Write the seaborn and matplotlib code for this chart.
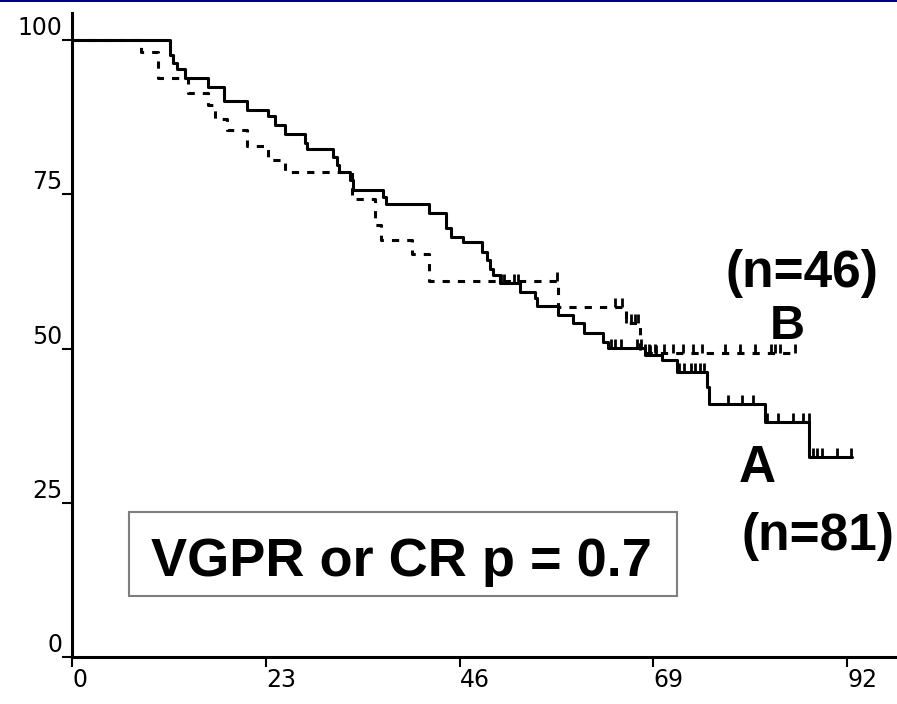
import numpy as np
import pandas as pd
import matplotlib
matplotlib.use("Agg")
import matplotlib.pyplot as plt
from matplotlib.patches import Rectangle
import seaborn as sns

# ---------------- data ----------------
A_t = [0, 11.6, 12.0, 12.5, 13.4, 16.1, 18.0, 20.8, 23.2, 24.1, 25.3, 27.7, 27.9,
       31.0, 31.5, 31.7, 33.0, 33.4, 36.9, 37.3, 42.4, 44.4, 45.0, 46.4, 48.7,
       49.2, 49.6, 50.0, 50.8, 53.2, 55.0, 55.2, 57.7, 59.5, 60.7, 63.0, 63.6,
       68.0, 70.0, 71.8, 75.3, 75.6, 82.2, 87.5, 92.6]
A_s = [100, 97.6, 96.3, 95.3, 93.8, 92.4, 90.1, 88.7, 87.7, 86.2, 84.8, 83.3, 82.3,
       81.0, 79.7, 78.6, 77.3, 75.7, 74.6, 73.4, 72.0, 69.5, 68.1, 67.3, 65.6,
       64.3, 62.9, 61.9, 60.6, 59.2, 58.2, 56.9, 55.4, 54.1, 52.5, 51.1, 50.1,
       49.0, 48.1, 46.2, 43.8, 41.0, 38.1, 32.4, 32.4]
A_cens = [50.9, 51.3, 52.5, 52.9, 64.0, 64.4, 65.1, 67.0, 67.5, 68.6, 69.3,
          72.0, 72.6, 73.4, 73.9, 74.5, 75.0, 77.9, 79.5, 80.8,
          82.5, 83.8, 85.5, 86.8, 87.4, 87.9, 88.4, 89.0, 90.8, 92.4]

B_t = [0, 8.2, 10.2, 13.8, 16.1, 17.0, 18.4, 20.8, 23.3, 25.3, 33.2, 36.0, 36.7,
       40.4, 42.4, 57.7, 65.7, 67.4, 85.8]
B_s = [100, 98.1, 93.8, 91.4, 89.5, 87.2, 85.4, 82.8, 80.6, 78.6, 74.2, 70.0, 67.6,
       65.3, 60.9, 56.7, 54.1, 49.3, 49.3]
B_cens = [57.5, 64.4, 65.3, 65.8, 66.3, 66.8, 67.2, 68.0, 68.5, 69.2, 70.3, 71.3,
          72.5, 73.7, 74.8, 77.5, 79.3, 81.1, 82.9, 83.4, 84.0, 85.8]

x_ticks = [0, 23, 46, 69, 92]
y_ticks = [0, 25, 50, 75, 100]

# ---------------- style ----------------
sns.set_style("white")
plt.rcParams["font.family"] = ["Liberation Sans", "DejaVu Sans"]
plt.rcParams["lines.scale_dashes"] = False
plt.rcParams["text.color"] = "black"

fig = plt.figure(figsize=(8.97, 7.04), dpi=100)
ax = fig.add_axes([72 / 897, 47 / 704, 825 / 897, 644 / 704])

dfA = pd.DataFrame({"t": A_t, "s": A_s})
dfB = pd.DataFrame({"t": B_t, "s": B_s})

sns.lineplot(data=dfA, x="t", y="s", drawstyle="steps-post", estimator=None,
             sort=False, color="black", lw=2.2, ax=ax)
sns.lineplot(data=dfB, x="t", y="s", drawstyle="steps-post", estimator=None,
             sort=False, color="black", lw=2.2, ax=ax,
             linestyle=(0, (5.2, 5.8)))


def levels(t, s, c):
    idx = np.searchsorted(np.asarray(t), np.asarray(c), side="right") - 1
    return np.asarray(s)[idx]


tick_h = 1.5
la = levels(A_t, A_s, A_cens)
ax.vlines(A_cens, la, la + tick_h, color="black", lw=2.0)
lb = levels(B_t, B_s, B_cens)
ax.vlines(B_cens, lb, lb + tick_h, color="black", lw=2.0)

ax.set_xlim(0, 97.9)
ax.set_ylim(0, 104.4)
ax.set_xticks(x_ticks)
ax.set_yticks(y_ticks)
ax.set_xticklabels([str(v) for v in x_ticks], family="DejaVu Sans")
ax.set_yticklabels([str(v) for v in y_ticks], family="DejaVu Sans")
ax.set_xlabel("")
ax.set_ylabel("")

for side in ["top", "right"]:
    ax.spines[side].set_visible(False)
for side in ["left", "bottom"]:
    ax.spines[side].set_color("black")
    ax.spines[side].set_linewidth(2.2)

ax.tick_params(axis="both", which="major", direction="out", length=7,
               width=1.5, color="black", labelsize=17, labelcolor="black",
               bottom=True, left=True)
ax.tick_params(axis="y", pad=0)
ax.tick_params(axis="x", pad=1)
for lbl in ax.get_yticklabels():
    lbl.set_verticalalignment("bottom")
    lbl.set_horizontalalignment("right")
for lbl in ax.get_xticklabels():
    lbl.set_horizontalalignment("left")
ax.grid(False)
ax.set_facecolor("white")

# ---------------- annotations ----------------
def fx(px):
    return px / 897


def fy(py):
    return 1 - py / 704


txt_kw = dict(ha="center", va="baseline", fontweight="bold", color="black")
fig.text(fx(802), fy(287), "(n=46)", fontsize=37, **txt_kw)
fig.text(fx(787), fy(339), "B", fontsize=35, **txt_kw)
fig.text(fx(757), fy(482), "A", fontsize=37, **txt_kw)
fig.text(fx(818), fy(550), "(n=81)", fontsize=37, **txt_kw)

fig.add_artist(Rectangle((fx(129), fy(596)), (677 - 129) / 897, (596 - 512) / 704,
                         transform=fig.transFigure, fill=False,
                         edgecolor="#7f7f7f", lw=1.5))
fig.text(fx(401), fy(576), "VGPR or CR p = 0.7", fontsize=39, **txt_kw)

# navy rule at the top edge
fig.add_artist(Rectangle((0, 1 - 2 / 704), 1, 2 / 704, transform=fig.transFigure,
                         facecolor="#000080", edgecolor="none"))

fig.savefig("out.png", dpi=100, facecolor="white")
